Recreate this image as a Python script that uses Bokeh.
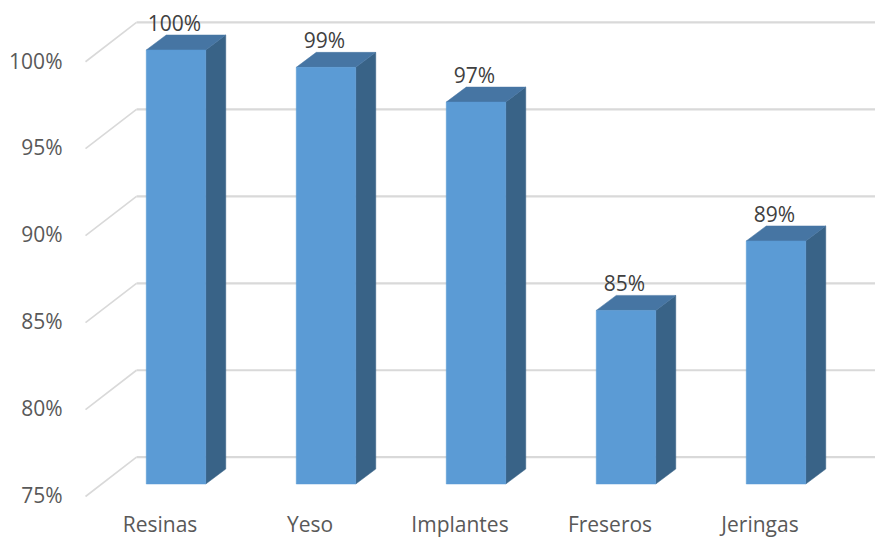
from bokeh.embed import file_html
from bokeh.resources import INLINE
from bokeh.plotting import figure
from bokeh.models import ColumnDataSource, FixedTicker, LinearAxis, Range1d
from bokeh.core.properties import value

categories = ["Resinas", "Yeso", "Implantes", "Freseros", "Jeringas"]
percentages = [100, 99, 97, 85, 89]
y_ticks = [75, 80, 85, 90, 95, 100]

WIDTH, HEIGHT = 875, 538
FRAME_LEFT = 70
FRAME_H = HEIGHT
FONT_SIZE = "21px"

# Pixels per category step and per percentage point on the front plane
STEP = 150.0
UNIT = 17.36
FIRST_BAR_PX = 175.5
BAR_W = 59.5 / STEP
DEPTH_X = 20 / STEP
DEPTH_Y = 15 / UNIT


def y_span(px_at_75, px_per_unit):
    """Value range of the frame for a plane whose 75% line sits at px_at_75."""
    return (75 - (FRAME_H - px_at_75) / px_per_unit, 75 + px_at_75 / px_per_unit)


start, end = y_span(483.5, UNIT)
x0, x1 = (FRAME_LEFT - FIRST_BAR_PX) / STEP, (WIDTH - FIRST_BAR_PX) / STEP
p = figure(
    width=WIDTH, height=HEIGHT,
    x_range=Range1d(x0, x1), y_range=Range1d(start, end),
    output_backend="svg", toolbar_location=None,
    x_axis_location=None, y_axis_location=None,
    min_border_left=FRAME_LEFT, min_border_right=0,
    min_border_top=0, min_border_bottom=0,
    outline_line_color=None, background_fill_color="white",
)
p.grid.visible = False

# Extra scales: the back wall and the tick-label plane
p.extra_y_ranges["wall"] = Range1d(*y_span(456.7, 17.39))
p.extra_y_ranges["labels"] = Range1d(*y_span(494, 17.36))

# Floor and wall lines, running from the label plane to the back wall
wall_x = (136 - FIRST_BAR_PX) / STEP
front_x = (85 - FIRST_BAR_PX) / STEP
wall_drop = 39.3 / 17.39
p.segment(x0=[wall_x] * len(y_ticks), x1=[x1] * len(y_ticks), y0=y_ticks, y1=y_ticks,
          y_range_name="wall", line_color="#D9D9D9", line_width=2.2)
p.segment(x0=[front_x] * len(y_ticks), x1=[wall_x] * len(y_ticks),
          y0=[t - wall_drop for t in y_ticks], y1=y_ticks,
          y_range_name="wall", line_color="#D9D9D9", line_width=1.6)

xs = list(range(len(categories)))
lefts = [i - BAR_W / 2 for i in xs]
rights = [i + BAR_W / 2 for i in xs]
BASE = 75

# Side faces and top faces of the columns
side_x = [[r, r + DEPTH_X, r + DEPTH_X, r] for r in rights]
side_y = [[v, v + DEPTH_Y, BASE + DEPTH_Y, BASE] for v in percentages]
top_x = [[l, l + DEPTH_X, r + DEPTH_X, r] for l, r in zip(lefts, rights)]
top_y = [[v, v + DEPTH_Y, v + DEPTH_Y, v] for v in percentages]
p.patches(side_x, side_y, fill_color="#396387", line_color="#396387", line_width=0.5)
p.patches(top_x, top_y, fill_color="#4675A3", line_color="#4675A3", line_width=0.5)
p.quad(left=lefts, right=rights, bottom=BASE, top=percentages,
       fill_color="#5B9BD5", line_color="#5B9BD5", line_width=0.5)

# Value labels above each column
source = ColumnDataSource(dict(x=xs, y=percentages, label=[f"{v}%" for v in percentages]))
p.text(x="x", y="y", text="label", source=source, x_offset=-1.5, y_offset=-27,
       text_align="center", text_baseline="middle",
       text_font=value("Open Sans"), text_font_size=FONT_SIZE, text_color="#404040")

# Category names under the floor
cat_source = ColumnDataSource(dict(x=xs, y=[BASE] * len(xs), label=categories))
p.text(x="x", y="y", text="label", source=cat_source, x_offset=-16, y_offset=40,
       text_align="center", text_baseline="middle",
       text_font=value("Open Sans"), text_font_size=FONT_SIZE, text_color="#595959")

y_axis = LinearAxis(y_range_name="labels", ticker=FixedTicker(ticks=y_ticks),
                    major_label_overrides={t: f"{t}%" for t in y_ticks},
                    major_label_standoff=8, axis_line_color=None, major_tick_out=0,
                    major_tick_line_color=None, minor_tick_line_color=None,
                    major_label_text_font="Open Sans", major_label_text_font_size=FONT_SIZE,
                    major_label_text_color="#595959")
p.add_layout(y_axis, "left")

open("out.html", "w").write(file_html(p, INLINE))
